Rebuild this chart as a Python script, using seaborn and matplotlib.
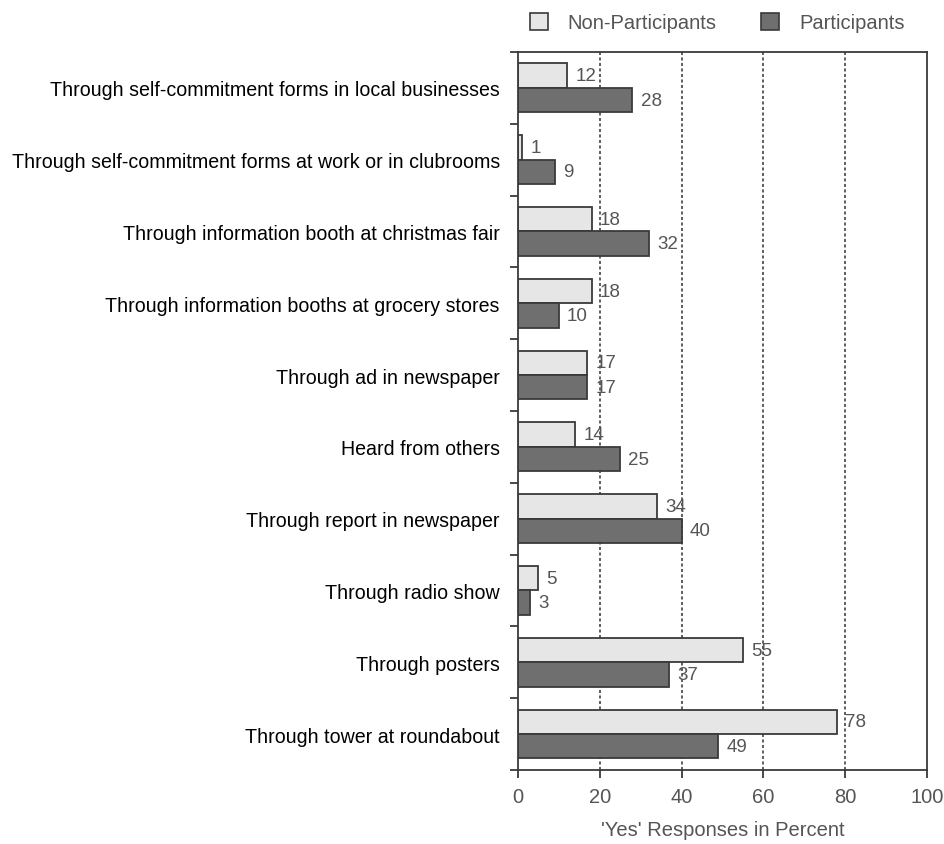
import numpy as np
import pandas as pd
import seaborn as sns
import matplotlib.pyplot as plt
from matplotlib.patches import Patch

categories = [
    'Through self-commitment forms in local businesses',
    'Through self-commitment forms at work or in clubrooms',
    'Through information booth at christmas fair',
    'Through information booths at grocery stores',
    'Through ad in newspaper',
    'Heard from others',
    'Through report in newspaper',
    'Through radio show',
    'Through posters',
    'Through tower at roundabout',
]
non_participants = [12, 1, 18, 18, 17, 14, 34, 5, 55, 78]
participants = [28, 9, 32, 10, 17, 25, 40, 3, 37, 49]
groups = ['Non-Participants', 'Participants']
x_ticks = [0, 20, 40, 60, 80, 100]

df = pd.DataFrame({'category': categories,
                   'Non-Participants': non_participants,
                   'Participants': participants})
long = df.melt(id_vars='category', value_vars=groups, var_name='group', value_name='pct')

sns.set_theme(style='white')
plt.rcParams['font.family'] = ['Liberation Sans', 'DejaVu Sans']

light = '#e6e6e6'
dark = '#6f6f6f'
edge = '#3a3a3a'
grey_txt = '#555555'

fig = plt.figure(figsize=(9.45, 8.45), dpi=100)
ax = fig.add_axes([0.548, 0.0876, 0.433, 0.8497])

sns.barplot(data=long, y='category', x='pct', hue='group', order=categories,
            hue_order=groups, palette=[light, dark], orient='h', width=0.68,
            gap=0, edgecolor=edge, linewidth=1.3, legend=False, ax=ax)

for cont in ax.containers:
    ax.bar_label(cont, padding=6, fontsize=13.5, color=grey_txt)

ax.set_xlim(0, 100)
ax.set_ylim(len(categories) - 0.5, -0.5)
ax.set_xticks(x_ticks)
ax.set_xticklabels([str(t) for t in x_ticks], fontsize=14.5, color=grey_txt)
ax.tick_params(axis='x', bottom=True, direction='out', length=6, width=1.3, color=edge, pad=6)
ax.tick_params(axis='y', which='major', left=False, length=0, labelsize=14.1,
               labelcolor='black', pad=13)
ax.set_yticks(np.arange(-0.5, len(categories), 1), minor=True)
ax.tick_params(axis='y', which='minor', left=True, direction='out', length=6,
               width=1.3, color=edge)
ax.set_xlabel("'Yes' Responses in Percent", fontsize=14.5, color=grey_txt, labelpad=10)
ax.set_ylabel('')

for v in [20, 40, 60, 80]:
    ax.axvline(v, color='#333333', linestyle=(0, (2, 1.6)), linewidth=1.1, zorder=0)

for s in ax.spines.values():
    s.set_visible(True)
    s.set_color(edge)
    s.set_linewidth(1.3)

handles = [Patch(facecolor=light, edgecolor=edge, linewidth=1.2),
           Patch(facecolor=dark, edgecolor=edge, linewidth=1.2)]
fig.legend(handles, groups, loc='center', bbox_to_anchor=(0.759, 0.972), ncol=2,
           frameon=False, fontsize=14.5, handlelength=0.9, handleheight=0.9,
           columnspacing=2.2, handletextpad=1.0, labelcolor=grey_txt)

fig.savefig('out.png', dpi=100, facecolor='white')
